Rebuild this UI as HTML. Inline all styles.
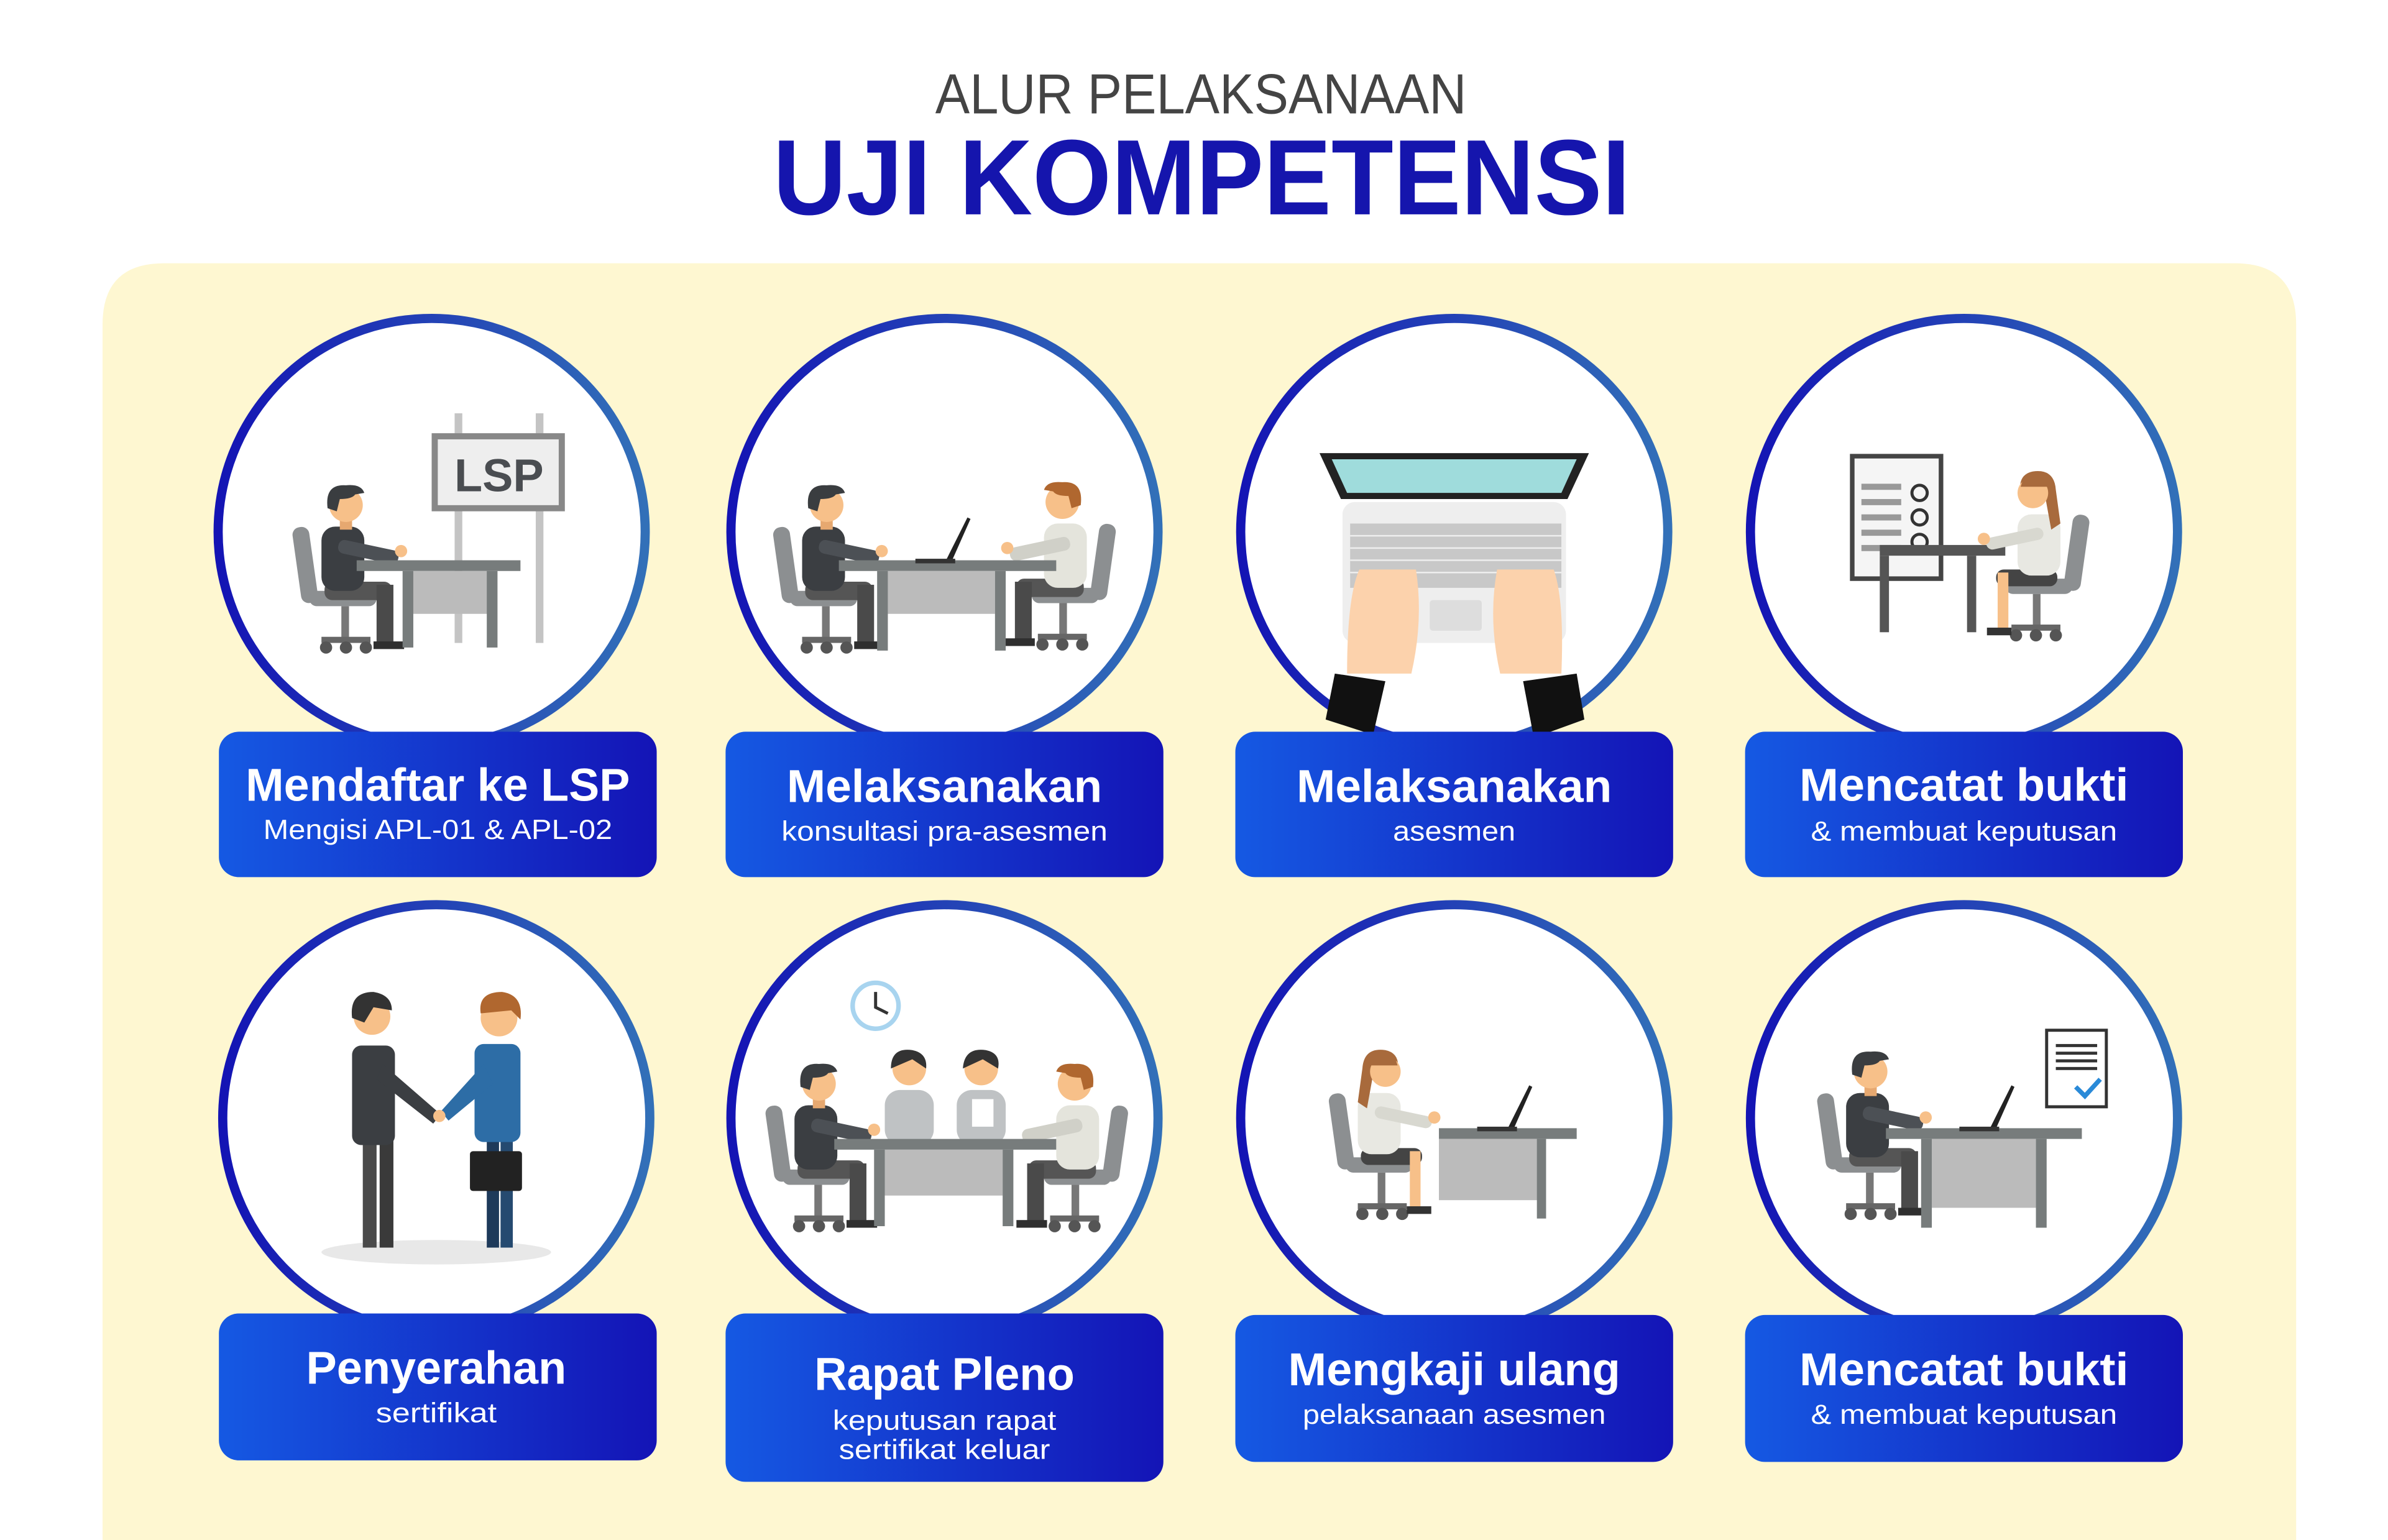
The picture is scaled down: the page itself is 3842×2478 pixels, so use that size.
<!DOCTYPE html>
<html><head><meta charset="utf-8"><style>html,body{margin:0;padding:0;background:#fff;width:3842px;height:2478px;overflow:hidden}svg{display:block}</style></head>
<body>
<svg width="3842" height="2478" viewBox="0 0 1560 1006" preserveAspectRatio="none" xmlns="http://www.w3.org/2000/svg" font-family="Liberation Sans, sans-serif">
<defs>
<linearGradient id="ring" x1="0" y1="0" x2="1" y2="0"><stop offset="0" stop-color="#1414b4"/><stop offset="1" stop-color="#3270b8"/></linearGradient>
<linearGradient id="lab" x1="0" y1="0" x2="1" y2="0"><stop offset="0" stop-color="#1559e3"/><stop offset="1" stop-color="#1414b6"/></linearGradient>
<g id="chair">
<rect x="-32" y="14" width="11" height="50" rx="5" fill="#8c8f91" transform="rotate(-8 -26 40)"/>
<rect x="-24" y="56" width="44" height="10" rx="5" fill="#8c8f91"/>
<rect x="-3" y="66" width="5" height="22" fill="#777"/>
<rect x="-16" y="86" width="32" height="4" fill="#666"/>
<circle cx="-13" cy="93" r="4" fill="#555"/><circle cx="0" cy="93" r="4" fill="#555"/><circle cx="13" cy="93" r="4" fill="#555"/>
</g>
<g id="man">
<use href="#chair"/>
<rect x="-14" y="50" width="44" height="12" rx="5" fill="#555"/>
<rect x="20" y="52" width="11" height="40" fill="#4a4a4a"/>
<rect x="18" y="89" width="20" height="5" fill="#2f2f2f"/>
<rect x="-16" y="14" width="28" height="42" rx="9" fill="#3b3e42"/>
<rect x="-4" y="22" width="40" height="9" rx="4" fill="#4c5055" transform="rotate(12 -4 22)"/>
<circle cx="36" cy="30" r="4" fill="#f7c089"/>
<rect x="-4" y="8" width="8" height="8" fill="#e6a870"/>
<circle cx="0" cy="0" r="11" fill="#f7c089"/>
<path d="M-12 2 Q-14 -14 0 -13 Q10 -14 12 -8 L6 -7 Q4 -4 -4 -4 L-6 4 Z" fill="#3a3d40"/>
</g>
<g id="woman">
<use href="#chair"/>
<rect x="-14" y="50" width="40" height="11" rx="5" fill="#444"/>
<rect x="18" y="52" width="7" height="38" fill="#f7c089"/>
<rect x="16" y="88" width="16" height="5" fill="#333"/>
<rect x="-16" y="14" width="28" height="40" rx="9" fill="#e8e8e2"/>
<rect x="-4" y="22" width="38" height="8" rx="4" fill="#d8d8d0" transform="rotate(12 -4 22)"/>
<circle cx="34" cy="30" r="4" fill="#f7c089"/>
<path d="M-13 -2 Q-12 -16 2 -14 Q12 -12 10 0 L-6 2 L-10 24 L-16 20 Z" fill="#a86a3c"/>
<circle cx="2" cy="0" r="10" fill="#f7c089"/>
<path d="M-8 -4 Q-4 -15 8 -10 L10 -4 Z" fill="#a86a3c"/>
</g>
<g id="laptop"><path d="M0 0 L14 -28 L16 -27 L4 0 Z" fill="#222"/><rect x="-20" y="-1" width="26" height="3" fill="#333"/></g>
</defs>

<text x="784.5" y="74" font-size="37" fill="#444" text-anchor="middle" textLength="347" lengthAdjust="spacingAndGlyphs">ALUR PELAKSANAAN</text>
<text x="785" y="140" font-size="70" font-weight="bold" fill="#1515ad" text-anchor="middle" textLength="560" lengthAdjust="spacingAndGlyphs">UJI KOMPETENSI</text>

<path d="M67 1006 L67 212 Q67 172 107 172 L1460 172 Q1500 172 1500 212 L1500 1006 Z" fill="#fef7d1"/>

<g fill="#fff" stroke="url(#ring)" stroke-width="6">
<circle cx="282" cy="347.5" r="139.5"/><circle cx="617" cy="347.5" r="139.5"/><circle cx="950" cy="347.5" r="139.5"/><circle cx="1283" cy="347.5" r="139.5"/>
<circle cx="285" cy="730.5" r="139.5"/><circle cx="617" cy="730.5" r="139.5"/><circle cx="950" cy="730.5" r="139.5"/><circle cx="1283" cy="730.5" r="139.5"/>
</g>

<rect x="297" y="270" width="5" height="150" fill="#c4c4c4"/><rect x="350" y="270" width="5" height="150" fill="#c4c4c4"/>
<rect x="284" y="285" width="83" height="47" fill="#eee" stroke="#888" stroke-width="4"/>
<text x="326" y="321" font-size="30" font-weight="bold" fill="#4a4d51" text-anchor="middle">LSP</text>
<use href="#man" x="226" y="330"/>
<rect x="233" y="366" width="107" height="7" fill="#777c7c"/><rect x="270" y="373" width="50" height="28" fill="#bbb"/>
<rect x="263" y="373" width="7" height="50" fill="#777c7c"/><rect x="318" y="373" width="7" height="50" fill="#777c7c"/>

<use href="#man" x="540" y="330"/>
<g transform="translate(694 328) scale(-1 1)">
<use href="#chair"/>
<rect x="-14" y="50" width="44" height="12" rx="5" fill="#555"/><rect x="20" y="52" width="11" height="40" fill="#4a4a4a"/><rect x="18" y="89" width="20" height="5" fill="#2f2f2f"/>
<rect x="-16" y="14" width="28" height="42" rx="9" fill="#e4e4dc"/><rect x="-4" y="22" width="40" height="9" rx="4" fill="#d0d0c8" transform="rotate(12 -4 22)"/><circle cx="36" cy="30" r="4" fill="#f7c089"/>
<circle cx="0" cy="0" r="11" fill="#f7c089"/><path d="M-12 2 Q-14 -14 0 -13 Q10 -14 12 -8 L6 -7 Q4 -4 -4 -4 L-6 4 Z" fill="#b0672f"/>
</g>
<rect x="548" y="366" width="142" height="7" fill="#777c7c"/><rect x="580" y="373" width="70" height="28" fill="#bbb"/>
<rect x="573" y="373" width="7" height="52" fill="#777c7c"/><rect x="650" y="373" width="7" height="52" fill="#777c7c"/>
<use href="#laptop" x="618" y="366"/>

<rect x="877" y="328" width="146" height="92" rx="8" fill="#eee"/>
<rect x="882" y="342" width="138" height="42" fill="#c8c8c8"/>
<g stroke="#eee" stroke-width="1"><path d="M882 350H1020M882 358H1020M882 366H1020M882 374H1020"/></g>
<rect x="934" y="392" width="34" height="20" rx="2" fill="#ddd"/>
<path d="M862 296 L1038 296 L1024 326 L876 326 Z" fill="#222"/>
<path d="M870 300 L1030 300 L1020 322 L880 322 Z" fill="#9fdcdc"/>
<path d="M880 440 Q880 390 888 372 L925 372 Q930 405 922 440 Z" fill="#fcd2ac"/>
<path d="M980 440 Q972 405 978 372 L1015 372 Q1022 392 1020 440 Z" fill="#fcd2ac"/>
<path d="M872 440 L905 445 L897 480 L866 470 Z" fill="#111"/>
<path d="M995 445 L1030 440 L1035 470 L1002 482 Z" fill="#111"/>

<rect x="1210" y="298" width="58" height="80" fill="#f5f5f5" stroke="#444" stroke-width="3"/>
<g fill="#999"><rect x="1216" y="316" width="26" height="4"/><rect x="1216" y="326" width="26" height="4"/><rect x="1216" y="336" width="26" height="4"/><rect x="1216" y="346" width="26" height="4"/><rect x="1216" y="356" width="26" height="4"/></g>
<g fill="none" stroke="#333" stroke-width="2"><circle cx="1254" cy="322" r="5"/><circle cx="1254" cy="338" r="5"/><circle cx="1254" cy="354" r="5"/></g>
<rect x="1228" y="356" width="82" height="7" fill="#555"/><rect x="1228" y="363" width="6" height="50" fill="#555"/><rect x="1285" y="363" width="6" height="50" fill="#555"/>
<g transform="translate(1330 322) scale(-1 1)"><use href="#woman"/></g>

<ellipse cx="285" cy="818" rx="75" ry="8" fill="#e8e8e8"/>
<rect x="237" y="745" width="9" height="70" fill="#4a4a4a"/><rect x="248" y="745" width="9" height="70" fill="#3a3a3a"/>
<rect x="230" y="683" width="28" height="65" rx="6" fill="#3b3e42"/>
<path d="M250 695 L288 728 L283 734 L246 705 Z" fill="#3b3e42"/>
<circle cx="243" cy="664" r="12" fill="#f7c089"/><path d="M230 665 Q228 648 244 648 Q256 650 256 660 L244 658 L238 668 Z" fill="#333"/>
<rect x="318" y="743" width="8" height="72" fill="#1e3a5a"/><rect x="327" y="743" width="8" height="72" fill="#254a70"/>
<rect x="310" y="682" width="30" height="64" rx="6" fill="#2d6da6"/>
<path d="M316 695 L288 726 L293 732 L322 708 Z" fill="#2d6da6"/>
<circle cx="287" cy="729" r="4" fill="#f7c089"/>
<circle cx="326" cy="665" r="12" fill="#f7c089"/><path d="M314 662 Q312 648 328 648 Q342 650 340 666 L334 660 Z" fill="#b0672f"/>
<rect x="307" y="752" width="34" height="26" rx="2" fill="#222"/>

<circle cx="572" cy="657" r="15" fill="#fff" stroke="#a8d4ef" stroke-width="3"/><path d="M572 648V658L580 662" stroke="#333" stroke-width="2" fill="none"/>
<g><circle cx="594" cy="698" r="11" fill="#f7c089"/><path d="M582 698 Q582 684 596 686 Q606 688 605 698 L596 692 Z" fill="#333"/><rect x="578" y="712" width="32" height="36" rx="10" fill="#bfc2c4"/></g>
<g><circle cx="641" cy="698" r="11" fill="#f7c089"/><path d="M629 698 Q630 684 644 686 Q654 688 652 698 L642 692 Z" fill="#333"/><rect x="625" y="712" width="32" height="36" rx="10" fill="#bfc2c4"/><rect x="635" y="718" width="14" height="18" fill="#fff"/></g>
<use href="#man" x="535" y="708"/>
<g transform="translate(702 708) scale(-1 1)">
<use href="#chair"/>
<rect x="-14" y="50" width="44" height="12" rx="5" fill="#555"/><rect x="20" y="52" width="11" height="40" fill="#4a4a4a"/><rect x="18" y="89" width="20" height="5" fill="#2f2f2f"/>
<rect x="-16" y="14" width="28" height="42" rx="9" fill="#e4e4dc"/><rect x="-4" y="22" width="40" height="9" rx="4" fill="#d0d0c8" transform="rotate(12 -4 22)"/>
<circle cx="0" cy="0" r="11" fill="#f7c089"/><path d="M-12 2 Q-14 -14 0 -13 Q10 -14 12 -8 L6 -7 Q4 -4 -4 -4 L-6 4 Z" fill="#b0672f"/>
</g>
<rect x="545" y="744" width="145" height="7" fill="#777c7c"/><rect x="578" y="751" width="77" height="30" fill="#bbb"/>
<rect x="571" y="751" width="7" height="50" fill="#777c7c"/><rect x="655" y="751" width="7" height="50" fill="#777c7c"/>

<use href="#woman" x="903" y="700"/>
<rect x="940" y="737" width="90" height="7" fill="#777c7c"/><rect x="940" y="744" width="65" height="40" fill="#bbb"/><rect x="1004" y="744" width="6" height="52" fill="#777c7c"/>
<use href="#laptop" x="985" y="737"/>

<rect x="1337" y="673" width="39" height="50" fill="#fff" stroke="#333" stroke-width="2"/>
<g fill="#333"><rect x="1343" y="682" width="27" height="2"/><rect x="1343" y="687" width="27" height="2"/><rect x="1343" y="692" width="27" height="2"/><rect x="1343" y="697" width="27" height="2"/></g>
<path d="M1356 710 L1362 716 L1372 705" stroke="#2a8ad8" stroke-width="3" fill="none"/>
<use href="#man" x="1222" y="700"/>
<rect x="1232" y="737" width="128" height="7" fill="#777c7c"/><rect x="1262" y="744" width="68" height="45" fill="#bbb"/>
<rect x="1255" y="744" width="7" height="58" fill="#777c7c"/><rect x="1330" y="744" width="7" height="58" fill="#777c7c"/>
<use href="#laptop" x="1300" y="737"/>

<g fill="url(#lab)">
<rect x="143" y="478" width="286" height="95" rx="13"/><rect x="474" y="478" width="286" height="95" rx="13"/>
<rect x="807" y="478" width="286" height="95" rx="13"/><rect x="1140" y="478" width="286" height="95" rx="13"/>
<rect x="143" y="858" width="286" height="96" rx="13"/><rect x="474" y="858" width="286" height="110" rx="13"/>
<rect x="807" y="859" width="286" height="96" rx="13"/><rect x="1140" y="859" width="286" height="96" rx="13"/>
</g>
<g fill="#fff" text-anchor="middle">
<g font-size="30" font-weight="bold">
<text x="286" y="523" textLength="251" lengthAdjust="spacingAndGlyphs">Mendaftar ke LSP</text>
<text x="617" y="524" textLength="206" lengthAdjust="spacingAndGlyphs">Melaksanakan</text>
<text x="950" y="524" textLength="206" lengthAdjust="spacingAndGlyphs">Melaksanakan</text>
<text x="1283" y="523" textLength="215" lengthAdjust="spacingAndGlyphs">Mencatat bukti</text>
<text x="285" y="904" textLength="170" lengthAdjust="spacingAndGlyphs">Penyerahan</text>
<text x="617" y="908" textLength="170" lengthAdjust="spacingAndGlyphs">Rapat Pleno</text>
<text x="950" y="905" textLength="217" lengthAdjust="spacingAndGlyphs">Mengkaji ulang</text>
<text x="1283" y="905" textLength="215" lengthAdjust="spacingAndGlyphs">Mencatat bukti</text>
</g>
<g font-size="18">
<text x="286" y="548" textLength="228" lengthAdjust="spacingAndGlyphs">Mengisi APL-01 &amp; APL-02</text>
<text x="617" y="549" textLength="213" lengthAdjust="spacingAndGlyphs">konsultasi pra-asesmen</text>
<text x="950" y="549" textLength="80" lengthAdjust="spacingAndGlyphs">asesmen</text>
<text x="1283" y="549" textLength="200" lengthAdjust="spacingAndGlyphs">&amp; membuat keputusan</text>
<text x="285" y="929" textLength="79" lengthAdjust="spacingAndGlyphs">sertifikat</text>
<text x="617" y="934" textLength="146" lengthAdjust="spacingAndGlyphs">keputusan rapat</text>
<text x="617" y="953" textLength="138" lengthAdjust="spacingAndGlyphs">sertifikat keluar</text>
<text x="950" y="930" textLength="198" lengthAdjust="spacingAndGlyphs">pelaksanaan asesmen</text>
<text x="1283" y="930" textLength="200" lengthAdjust="spacingAndGlyphs">&amp; membuat keputusan</text>
</g>
</g>
</svg>
</body></html>
